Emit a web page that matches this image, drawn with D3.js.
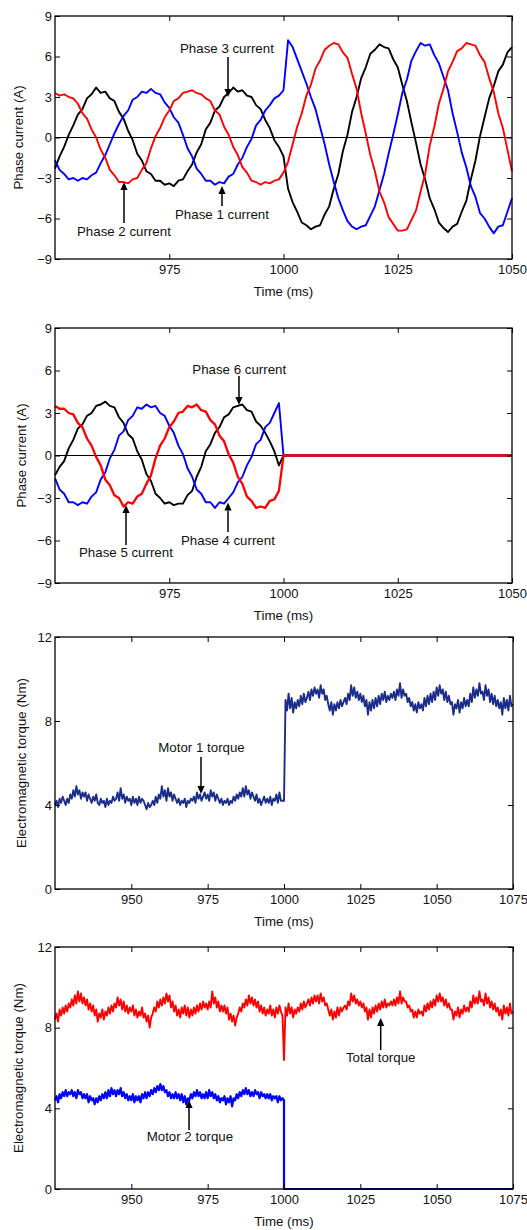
<!DOCTYPE html>
<html><head><meta charset="utf-8">
<script src="https://cdn.jsdelivr.net/npm/d3@7/dist/d3.min.js"></script>
<style>
body{margin:0;background:#fff}
svg{display:block}
text{font-family:"Liberation Sans",Arial,Helvetica,sans-serif;fill:#111}
</style>
</head><body>
<svg id="chart" width="527" height="1230"></svg>
<script>
// ---------- DATA ----------
const timeCurrent = d3.range(950, 1051, 1);        // ms, 1 ms sampling
const timeTorque  = d3.range(925, 1075.25, 0.5);   // ms, 0.5 ms sampling
const timeMotor2  = d3.range(925, 1000, 0.5).concat([1000, 1000, 1075]);

const xTicksCurrent = [975, 1000, 1025, 1050];
const xTicksTorque  = [950, 975, 1000, 1025, 1050, 1075];
const yTicksCurrent = [-9, -6, -3, 0, 3, 6, 9];
const yTicksTorque  = [0, 4, 8, 12];

const phase1 = [
-1.7,-2.4,-2.7,-3.1,-3.0,-3.2,-3.0,-3.1,-2.8,-2.6,
-1.9,-1.3,-0.5,0.3,1.0,1.6,2.0,2.8,3.0,3.4,
3.3,3.6,3.3,3.2,2.6,2.2,1.5,1.1,0.2,-0.8,
-1.4,-2.3,-2.7,-3.2,-3.2,-3.5,-3.3,-3.4,-2.9,-2.7,
-2.0,-1.5,-0.7,-0.1,0.9,1.3,2.0,2.4,2.9,3.1,
3.5,7.2,6.7,5.8,4.9,4.0,3.0,2.1,0.8,-0.5,
-2.0,-3.3,-4.5,-5.4,-6.2,-6.6,-6.8,-6.6,-6.5,-5.8,
-5.1,-3.9,-2.7,-1.2,0.2,1.7,3.3,4.3,5.7,6.4,
7.0,6.8,6.9,6.1,5.5,4.5,3.5,1.8,0.4,-1.1,
-2.2,-3.6,-4.4,-5.6,-6.0,-6.6,-7.1,-6.6,-6.5,-5.5,-4.5];

const phase2 = [
3.3,3.1,3.2,3.0,2.9,2.5,1.8,1.4,0.6,0.0,
-0.9,-1.5,-2.4,-2.8,-3.3,-3.3,-3.4,-3.1,-3.0,-2.4,
-1.9,-0.8,0.1,0.7,1.5,2.0,2.7,2.9,3.3,3.4,
3.5,3.3,3.2,2.9,2.7,2.0,1.7,0.8,0.2,-0.7,
-1.3,-2.2,-2.6,-3.2,-3.3,-3.5,-3.3,-3.4,-3.2,-3.1,
-2.6,-1.8,-0.5,0.8,1.8,3.1,3.9,5.1,5.7,6.5,
6.8,7.0,6.9,6.3,5.9,4.7,3.6,1.8,0.3,-1.3,
-2.5,-4.0,-4.8,-5.9,-6.4,-6.9,-6.9,-6.8,-6.1,-5.4,
-4.0,-2.7,-0.6,0.8,2.5,3.6,4.9,5.6,6.4,6.6,
7.0,6.9,6.8,6.1,5.6,4.4,3.4,1.8,0.7,-0.9,-2.5];

const phase3 = [
-2.3,-1.4,-0.7,0.2,0.9,1.7,2.1,2.9,3.2,3.7,
3.3,3.4,2.9,2.7,1.9,1.4,0.5,-0.2,-1.2,-1.7,
-2.5,-2.7,-3.2,-3.2,-3.5,-3.4,-3.6,-3.2,-3.1,-2.5,
-2.0,-1.1,-0.5,0.6,1.1,2.0,2.3,3.0,3.3,3.7,
3.4,3.5,3.1,3.0,2.4,2.1,1.3,0.7,-0.2,-0.7,
-1.4,-3.8,-4.8,-5.5,-6.3,-6.5,-6.8,-6.6,-6.5,-5.7,
-5.1,-3.8,-2.7,-1.0,0.2,1.9,3.0,4.4,5.2,6.2,
6.5,6.9,6.7,6.6,5.8,5.2,3.9,2.7,1.1,-0.4,
-2.0,-3.1,-4.5,-5.3,-6.3,-6.7,-7.0,-6.6,-6.4,-5.5,
-4.7,-3.1,-1.7,0.1,1.5,2.9,3.8,4.9,5.4,6.3,6.7];

const phase4 = [
-1.6,-2.4,-2.7,-3.3,-3.3,-3.5,-3.3,-3.4,-2.9,-2.6,
-1.7,-1.2,-0.2,0.4,1.4,1.7,2.5,2.8,3.4,3.3,
3.6,3.4,3.5,3.0,2.8,2.1,1.6,0.7,0.1,-0.9,
-1.5,-2.4,-2.7,-3.3,-3.3,-3.7,-3.3,-3.4,-3.0,-2.6,
-1.9,-1.5,-0.7,-0.1,0.8,1.1,2.0,2.3,3.0,3.7,
0,0,0,0,0,0,0,0,0,0,
0,0,0,0,0,0,0,0,0,0,
0,0,0,0,0,0,0,0,0,0,
0,0,0,0,0,0,0,0,0,0,
0,0,0,0,0,0,0,0,0,0,0];

const phase5 = [
3.5,3.3,3.3,3.0,2.9,2.3,2.0,1.2,0.7,-0.1,
-0.7,-1.7,-2.1,-2.8,-3.0,-3.6,-3.3,-3.4,-2.9,-2.7,
-2.0,-1.4,-0.2,0.7,1.2,2.0,2.4,3.0,3.1,3.5,
3.4,3.6,3.2,3.1,2.5,2.2,1.4,1.0,0.1,-0.5,
-1.5,-2.0,-2.9,-3.2,-3.7,-3.6,-3.7,-3.2,-3.1,-2.5,
0,0,0,0,0,0,0,0,0,0,
0,0,0,0,0,0,0,0,0,0,
0,0,0,0,0,0,0,0,0,0,
0,0,0,0,0,0,0,0,0,0,
0,0,0,0,0,0,0,0,0,0,0];

const phase6 = [
-1.4,-0.8,-0.4,0.5,1.1,1.9,2.2,2.8,3.0,3.5,
3.6,3.8,3.5,3.4,2.7,2.3,1.5,1.2,0.3,-0.3,
-1.3,-1.8,-2.7,-3.0,-3.4,-3.3,-3.5,-3.4,-3.4,-2.8,
-2.5,-1.5,-0.8,0.3,0.8,1.6,2.0,2.7,2.9,3.4,
3.5,3.6,3.2,3.1,2.4,2.1,1.6,1.0,0.3,-0.7,
0,0,0,0,0,0,0,0,0,0,
0,0,0,0,0,0,0,0,0,0,
0,0,0,0,0,0,0,0,0,0,
0,0,0,0,0,0,0,0,0,0,
0,0,0,0,0,0,0,0,0,0,0];

const motor1Torque = [
4.0,4.2,3.9,4.3,4.1,4.4,4.2,4.0,4.3,4.1,
4.5,4.3,4.7,4.4,4.9,4.5,4.7,4.3,4.6,4.4,
4.6,4.2,4.5,4.3,4.1,4.4,4.2,4.5,4.1,4.0,
4.3,4.1,4.2,3.9,4.3,4.0,4.2,4.1,4.4,4.2,
4.3,4.6,4.2,4.8,4.3,4.5,4.1,4.4,4.2,4.3,
4.0,4.4,4.1,4.3,4.0,4.4,4.1,4.3,4.2,4.0,
3.8,4.1,3.9,4.0,4.2,4.0,4.4,4.1,4.5,4.3,
4.9,4.4,4.7,4.2,4.8,4.4,4.6,4.2,4.5,4.3,
4.1,4.3,4.0,4.2,4.1,4.3,3.9,4.2,4.1,4.3,
4.2,4.4,4.1,4.6,4.3,4.5,4.2,4.4,4.6,4.3,
4.5,4.2,4.7,4.4,4.6,4.2,4.5,4.3,4.1,4.3,
4.0,4.2,4.1,4.3,4.0,4.2,4.1,4.4,4.2,4.5,
4.3,4.6,4.4,4.8,4.4,4.9,4.5,4.7,4.3,4.6,
4.4,4.2,4.5,4.1,4.3,4.0,4.2,4.4,4.1,4.3,
4.1,4.4,4.0,4.3,4.2,4.5,4.1,4.6,4.2,4.2,
4.2,
9.0,8.5,9.3,8.6,9.1,8.4,8.9,8.6,9.0,
8.7,9.2,8.8,9.3,8.9,9.1,9.4,9.0,9.5,9.2,
9.6,9.3,9.5,9.1,9.7,9.3,9.5,9.0,9.2,8.8,
8.5,8.9,8.3,8.8,8.5,8.9,8.6,9.0,8.7,8.9,
9.1,8.8,9.3,9.0,9.7,9.2,9.6,9.1,9.4,9.0,
9.3,8.9,9.2,8.7,9.0,8.3,8.9,8.5,9.0,8.6,
9.1,8.7,9.2,8.8,9.3,9.0,9.4,8.9,9.2,9.0,
9.3,9.1,9.4,9.0,9.5,9.2,9.8,9.1,9.5,9.2,
9.3,8.9,9.1,8.7,8.9,8.5,8.8,8.4,8.9,8.6,
8.8,8.5,9.1,8.7,9.2,8.8,9.3,8.9,9.4,9.0,
9.6,9.2,9.7,9.3,9.5,9.0,9.4,8.9,9.2,8.8,
8.9,8.3,8.8,8.6,9.0,8.4,8.9,8.6,9.1,8.7,
9.0,8.7,9.3,8.9,9.6,9.1,9.5,9.2,9.8,9.3,
9.4,9.0,9.7,9.2,9.5,8.9,9.3,8.8,9.2,8.7,
9.0,8.6,8.9,8.3,9.1,8.6,9.0,8.5,9.2,8.7,
8.8];

const totalTorque = [
8.4,8.7,8.3,8.9,8.6,9.0,8.7,9.1,8.8,9.2,
9.0,9.4,9.1,9.6,9.2,9.8,9.3,9.7,9.2,9.5,
9.1,9.4,8.9,9.2,8.8,9.1,8.6,8.9,8.3,8.7,
8.5,8.9,8.4,8.8,8.6,9.0,8.7,9.1,8.8,9.2,
9.0,9.5,9.1,9.4,8.9,9.3,8.8,9.1,8.7,9.0,
8.8,9.1,8.6,8.9,8.5,8.8,8.6,9.0,8.5,8.7,
8.3,8.6,8.0,8.5,8.7,9.0,8.8,9.3,9.0,9.4,
9.1,9.5,9.2,9.7,9.3,9.6,9.0,9.3,8.8,9.1,
8.6,8.9,8.5,9.0,8.7,9.1,8.6,9.0,8.5,8.9,
8.6,9.0,8.7,9.1,8.8,9.2,8.9,9.3,9.0,9.2,
8.9,9.3,9.0,9.8,9.2,9.5,9.0,9.3,8.8,9.1,
8.8,9.1,8.7,9.0,8.4,8.7,8.3,8.6,8.1,8.5,
8.7,9.0,8.8,9.2,9.0,9.4,9.1,9.6,9.2,9.5,
9.1,9.4,9.0,9.3,8.8,9.1,8.7,9.0,8.6,8.9,
8.7,9.1,8.6,8.9,8.5,9.0,8.7,9.1,8.8,8.6,
6.4,
9.0,8.6,9.2,8.7,9.0,8.5,8.9,8.7,9.0,
8.8,9.2,8.9,9.3,9.0,9.2,9.4,9.1,9.5,9.2,
9.6,9.3,9.6,9.2,9.7,9.3,9.5,9.1,9.2,8.9,
8.6,8.9,8.4,8.8,8.5,9.0,8.6,9.0,8.8,9.0,
9.1,8.9,9.3,9.1,9.7,9.3,9.6,9.2,9.4,9.1,
9.3,9.0,9.2,8.8,9.0,8.4,8.9,8.5,9.0,8.7,
9.1,8.8,9.2,8.9,9.3,9.0,9.4,9.0,9.2,9.1,
9.3,9.1,9.4,9.1,9.5,9.2,9.8,9.2,9.5,9.3,
9.3,9.0,9.1,8.8,8.9,8.5,8.8,8.5,8.9,8.7,
8.8,8.6,9.1,8.8,9.2,8.9,9.3,9.0,9.4,9.1,
9.6,9.3,9.7,9.3,9.5,9.1,9.4,9.0,9.2,8.9,
8.9,8.4,8.8,8.6,9.0,8.5,8.9,8.7,9.1,8.8,
9.0,8.8,9.3,9.0,9.6,9.2,9.5,9.2,9.8,9.3,
9.4,9.1,9.7,9.2,9.5,9.0,9.3,8.9,9.2,8.8,
9.0,8.6,8.9,8.4,9.1,8.7,9.0,8.6,9.2,8.7,
8.8];

const motor2Torque = [
4.4,4.6,4.3,4.7,4.5,4.8,4.6,4.9,4.6,4.8,
4.7,4.9,4.6,4.8,4.5,4.9,4.7,4.8,4.5,4.7,
4.5,4.7,4.3,4.6,4.4,4.5,4.2,4.5,4.3,4.6,
4.4,4.7,4.5,4.8,4.5,4.9,4.6,5.0,4.7,4.9,
4.6,4.9,4.7,5.0,4.6,4.8,4.5,4.7,4.4,4.6,
4.4,4.7,4.3,4.6,4.4,4.6,4.3,4.7,4.5,4.8,
4.5,4.8,4.6,4.9,4.7,5.0,4.8,5.1,4.9,5.2,
4.9,5.1,4.8,4.9,4.6,4.8,4.5,4.7,4.5,4.8,
4.5,4.7,4.4,4.7,4.3,4.6,4.2,4.5,4.4,4.7,
4.5,4.8,4.6,4.9,4.6,4.8,4.5,4.7,4.5,4.8,
4.5,4.9,4.6,4.8,4.5,4.7,4.4,4.6,4.3,4.5,
4.4,4.6,4.2,4.5,4.3,4.6,4.1,4.5,4.4,4.7,
4.5,4.8,4.6,4.9,4.7,5.0,4.7,4.9,4.6,4.8,
4.6,4.9,4.7,4.8,4.5,4.8,4.6,4.7,4.5,4.7,
4.5,4.7,4.4,4.6,4.5,4.6,4.3,4.6,4.4,4.5,
4.4, 0, 0];

// ---------- STYLE / LAYOUT ----------
const RED = "#ff0000", BLUE = "#0000ff", BLACK = "#000000", NAVY = "#1b2d8b";

const panels = [
  {top:16, bottom:259, left:55, right:512, xDomain:[950,1050], xTicks:xTicksCurrent,
   yDomain:[-9,9], yTicks:yTicksCurrent, yLabel:"Phase current (A)", yLabelX:23, zero:true,
   series:[{t:timeCurrent,v:phase3,c:BLACK},{t:timeCurrent,v:phase1,c:BLUE},{t:timeCurrent,v:phase2,c:RED}],
   notes:[
     {text:"Phase 3 current", tx:977.35, ty:6.26, ax:987.86, a0:5.96, a1:3.0},
     {text:"Phase 1 current", tx:976.26, ty:-6.04, ax:986.54, a0:-5.07, a1:-3.59},
     {text:"Phase 2 current", tx:954.81, ty:-7.33, ax:965.1, a0:-6.33, a1:-3.30}]},
  {top:328, bottom:583, left:55, right:512, xDomain:[950,1050], xTicks:xTicksCurrent,
   yDomain:[-9,9], yTicks:yTicksCurrent, yLabel:"Phase current (A)", yLabelX:26, zero:true,
   series:[{t:timeCurrent,v:phase6,c:BLACK},{t:timeCurrent,v:phase4,c:BLUE},{t:timeCurrent,v:phase5,c:RED,w:2.3}],
   notes:[
     {text:"Phase 6 current", tx:980.04, ty:5.75, ax:990.26, a0:5.61, a1:3.56},
     {text:"Phase 5 current", tx:955.25, ty:-7.13, ax:965.54, a0:-6.32, a1:-3.49},
     {text:"Phase 4 current", tx:977.57, ty:-6.35, ax:987.86, a0:-5.4, a1:-3.32}]},
  {top:637, bottom:889, left:55, right:513, xDomain:[925,1075], xTicks:xTicksTorque,
   yDomain:[0,12], yTicks:yTicksTorque, yLabel:"Electromagnetic torque (Nm)", yLabelX:25.5, zero:false,
   series:[{t:timeTorque,v:motor1Torque,c:NAVY}],
   notes:[{text:"Motor 1 torque", tx:958.83, ty:6.52, ax:972.82, a0:6.29, a1:4.52}]},
  {top:947, bottom:1189, left:55, right:513, xDomain:[925,1075], xTicks:xTicksTorque,
   yDomain:[0,12], yTicks:yTicksTorque, yLabel:"Electromagnetic torque (Nm)", yLabelX:22.5, zero:false,
   series:[{t:timeTorque,v:totalTorque,c:RED},{t:timeMotor2,v:motor2Torque,c:BLUE,w:2.2}],
   notes:[
     {text:"Motor 2 torque", tx:955.03, ty:2.38, ax:968.89, a0:2.93, a1:4.41},
     {text:"Total torque", tx:1020.3, ty:6.30, ax:1031.67, a0:6.89, a1:8.48}]}
];

const svg = d3.select("#chart");
const TICK_FS = "13px", LABEL_FS = "13.3px";

panels.forEach(p => {
  const x = d3.scaleLinear().domain(p.xDomain).range([p.left, p.right]);
  const y = d3.scaleLinear().domain(p.yDomain).range([p.bottom, p.top]);
  const g = svg.append("g");

  if (p.zero) {
    g.append("line").attr("x1", p.left).attr("x2", p.right)
      .attr("y1", y(0)).attr("y2", y(0))
      .attr("stroke", "#000").attr("stroke-width", 1);
  }

  const line = d3.line().x(d => x(d[0])).y(d => y(d[1]));
  p.series.forEach(s => {
    const pts = s.t.map((tt, i) => [tt, s.v[i]]);
    g.append("path").datum(pts).attr("d", line)
      .attr("fill", "none").attr("stroke", s.c)
      .attr("stroke-width", s.w || 1.9).attr("stroke-linejoin", "round");
  });

  // axes (inward ticks on all four sides)
  const ax = (axis, tr) => {
    const a = g.append("g").attr("transform", tr).call(axis);
    a.select(".domain").remove();
    a.selectAll("line").attr("stroke", "#000").attr("stroke-width", 1);
    a.selectAll("text").style("font-size", TICK_FS).attr("fill", "#111")
      .style("font-family", '"Liberation Sans",Arial,sans-serif');
    return a;
  };
  ax(d3.axisBottom(x).tickValues(p.xTicks).tickSizeInner(-5).tickSizeOuter(0).tickPadding(5.5).tickFormat(d3.format("d")),
     `translate(0,${p.bottom})`);
  ax(d3.axisTop(x).tickValues(p.xTicks).tickSizeInner(-5).tickSizeOuter(0).tickFormat(""),
     `translate(0,${p.top})`);
  ax(d3.axisLeft(y).tickValues(p.yTicks).tickSizeInner(-5).tickSizeOuter(0).tickPadding(3).tickFormat(d3.format("d")),
     `translate(${p.left},0)`);
  ax(d3.axisRight(y).tickValues(p.yTicks).tickSizeInner(-5).tickSizeOuter(0).tickFormat(""),
     `translate(${p.right},0)`);

  // frame
  g.append("rect").attr("x", p.left).attr("y", p.top)
    .attr("width", p.right - p.left).attr("height", p.bottom - p.top)
    .attr("fill", "none").attr("stroke", "#000").attr("stroke-width", 1.3);

  // axis titles
  g.append("text").attr("transform", `translate(${p.yLabelX},${(p.top + p.bottom) / 2}) rotate(-90)`)
    .attr("text-anchor", "middle").style("font-size", LABEL_FS).text(p.yLabel);
  g.append("text").attr("x", (p.left + p.right) / 2).attr("y", p.bottom + 36.5)
    .attr("text-anchor", "middle").style("font-size", LABEL_FS).text("Time (ms)");

  // annotations with arrows
  p.notes.forEach(n => {
    g.append("text").attr("x", x(n.tx)).attr("y", y(n.ty))
      .style("font-size", LABEL_FS).text(n.text);
    const xa = x(n.ax), y0 = y(n.a0), y1 = y(n.a1);
    const dir = Math.sign(y1 - y0); // +1 pointing down
    const headLen = 8, headW = 3.6;
    g.append("line").attr("x1", xa).attr("x2", xa)
      .attr("y1", y0).attr("y2", y1 - dir * headLen)
      .attr("stroke", "#000").attr("stroke-width", 1.5);
    g.append("path")
      .attr("d", `M${xa},${y1} L${xa - headW},${y1 - dir * headLen} L${xa + headW},${y1 - dir * headLen} Z`)
      .attr("fill", "#000");
  });
});
</script>
</body></html>
